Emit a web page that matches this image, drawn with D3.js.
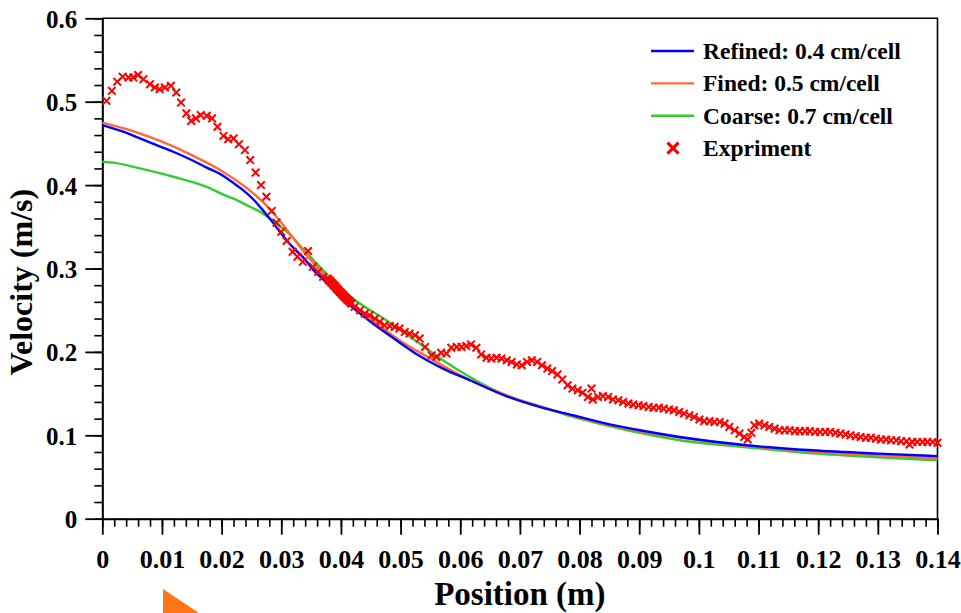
<!DOCTYPE html>
<html>
<head>
<meta charset="utf-8">
<script src="https://cdn.jsdelivr.net/npm/d3@7"></script>
<style>
  html, body { margin: 0; padding: 0; background: #fff; }
  svg { display: block; }
  text { font-family: "Liberation Serif", "Times New Roman", serif; font-weight: bold; fill: #000; }
</style>
</head>
<body>
<div id="chart"></div>
<script>
//Colores fijos
const COLOR_REFINED = '#0000FF',
COLOR_FINED = '#FF6A3A',
COLOR_COARSE = '#33CC33',
COLOR_EXP = '#FF0000';

//Datos
const refinedPos = [0, 0.0035, 0.0063, 0.0091, 0.0119, 0.0147, 0.0175, 0.0203, 0.0219, 0.0236, 0.0253, 0.0269, 0.0286, 0.0303, 0.0320, 0.0337, 0.0353, 0.0376, 0.0415, 0.0448, 0.0493, 0.0532, 0.0571, 0.0616, 0.0677, 0.0733, 0.0789, 0.0845, 0.0901, 0.0968, 0.108, 0.119, 0.130, 0.140];
const refinedVel = [0.472, 0.464, 0.456, 0.448, 0.440, 0.431, 0.421, 0.411, 0.403, 0.394, 0.383, 0.370, 0.355, 0.339, 0.325, 0.313, 0.299, 0.283, 0.256, 0.237, 0.214, 0.195, 0.180, 0.166, 0.147, 0.134, 0.124, 0.114, 0.106, 0.098, 0.088, 0.082, 0.078, 0.075];

const finedPos = [0, 0.005, 0.010, 0.015, 0.020, 0.025, 0.028, 0.031, 0.034, 0.038, 0.042, 0.046, 0.050, 0.055, 0.060, 0.065, 0.070, 0.075, 0.080, 0.090, 0.100, 0.110, 0.120, 0.130, 0.140];
const finedVel = [0.475, 0.465, 0.452, 0.436, 0.417, 0.392, 0.372, 0.346, 0.318, 0.287, 0.258, 0.234, 0.213, 0.192, 0.172, 0.156, 0.142, 0.131, 0.121, 0.105, 0.094, 0.086, 0.080, 0.076, 0.0725];

const coarsePos = [0, 0.0018, 0.0063, 0.0119, 0.0175, 0.0208, 0.0219, 0.0242, 0.0269, 0.0292, 0.0314, 0.0337, 0.0420, 0.0476, 0.0532, 0.0571, 0.0616, 0.0677, 0.0733, 0.0789, 0.0845, 0.0901, 0.0968, 0.108, 0.119, 0.130, 0.140];
const coarseVel = [0.428, 0.427, 0.420, 0.410, 0.398, 0.387, 0.384, 0.376, 0.366, 0.354, 0.341, 0.323, 0.264, 0.238, 0.210, 0.190, 0.170, 0.148, 0.135, 0.122, 0.112, 0.103, 0.094, 0.0856, 0.0784, 0.0736, 0.070];

const expPoints = [
  [0.0007,0.501],[0.0016,0.513],[0.0025,0.524],[0.0034,0.530],[0.0044,0.529],[0.0052,0.529],[0.0060,0.532],[0.0069,0.527],
  [0.0080,0.521],[0.0088,0.517],[0.0096,0.515],[0.0105,0.517],[0.0115,0.519],[0.0124,0.511],[0.0132,0.499],[0.0141,0.486],
  [0.0149,0.477],[0.0157,0.480],[0.0165,0.484],[0.0175,0.483],[0.0184,0.480],[0.0193,0.470],[0.0203,0.459],[0.0211,0.455],
  [0.0220,0.456],[0.0229,0.449],[0.0239,0.442],[0.0248,0.430],[0.0257,0.415],[0.0266,0.400],[0.0275,0.386],[0.0284,0.369],
  [0.0292,0.355],[0.0300,0.344],[0.0309,0.333],[0.0319,0.320],[0.0327,0.314],[0.0336,0.308],[0.0345,0.321],[0.0353,0.302],
  [0.0362,0.296],[0.0370,0.290],
  [0.0378,0.288],[0.0380,0.286],[0.0382,0.285],[0.0384,0.283],[0.0386,0.282],[0.0388,0.280],[0.0390,0.279],[0.0392,0.277],
  [0.0394,0.275],[0.0396,0.274],[0.0398,0.272],[0.0400,0.271],[0.0402,0.269],[0.0404,0.268],[0.0406,0.266],[0.0408,0.265],
  [0.0410,0.263],[0.0412,0.262],[0.0414,0.261],[0.0416,0.259],[0.0418,0.258],
  [0.0423,0.254],[0.0432,0.250],[0.0440,0.246],[0.0448,0.244],[0.0457,0.240],[0.0465,0.236],[0.0473,0.232],[0.0482,0.231],
  [0.0490,0.230],[0.0498,0.228],[0.0507,0.224],[0.0515,0.222],[0.0524,0.220],[0.0532,0.216],[0.0541,0.206],[0.0552,0.196],
  [0.0560,0.194],[0.0568,0.199],[0.0577,0.198],[0.0585,0.205],[0.0594,0.206],[0.0602,0.206],[0.0610,0.207],[0.0618,0.209],
  [0.0627,0.205],[0.0635,0.197],[0.0644,0.193],[0.0652,0.192],[0.0661,0.193],[0.0669,0.192],[0.0678,0.190],[0.0686,0.188],
  [0.0695,0.185],[0.0703,0.184],[0.0712,0.188],[0.0720,0.190],[0.0729,0.188],[0.0737,0.184],[0.0746,0.180],[0.0754,0.177],
  [0.0763,0.173],[0.0771,0.167],[0.0780,0.160],[0.0788,0.156],[0.0797,0.154],[0.0805,0.151],[0.0814,0.146],[0.0820,0.156],
  [0.0822,0.143],[0.0831,0.146],[0.0839,0.147],[0.0848,0.146],[0.0856,0.143],[0.0865,0.142],[0.0873,0.140],[0.0882,0.138],
  [0.0890,0.137],[0.0899,0.136],[0.0907,0.135],[0.0916,0.134],[0.0924,0.133],[0.0933,0.133],[0.0941,0.132],[0.0950,0.131],
  [0.0958,0.130],[0.0967,0.128],[0.0975,0.126],[0.0984,0.124],[0.0992,0.122],[0.1001,0.119],[0.1009,0.117],[0.1018,0.117],
  [0.1026,0.116],[0.1035,0.116],[0.1043,0.114],[0.1051,0.110],[0.1060,0.106],[0.1068,0.102],[0.1076,0.098],[0.1082,0.095],
  [0.1088,0.103],[0.1093,0.112],[0.1101,0.114],[0.1110,0.112],[0.1118,0.110],[0.1127,0.108],[0.1135,0.106],[0.1144,0.106],
  [0.1152,0.106],[0.1161,0.105],[0.1169,0.105],[0.1178,0.105],[0.1186,0.105],[0.1195,0.104],[0.1203,0.104],[0.1212,0.104],
  [0.1220,0.104],[0.1229,0.103],[0.1237,0.102],[0.1246,0.101],[0.1254,0.100],[0.1263,0.099],[0.1271,0.098],[0.1280,0.097],
  [0.1288,0.097],[0.1297,0.096],[0.1305,0.095],[0.1314,0.095],[0.1322,0.094],[0.1331,0.094],[0.1339,0.093],[0.1348,0.093],
  [0.1353,0.089],[0.1358,0.092],[0.1366,0.092],[0.1375,0.092],[0.1383,0.092],[0.1392,0.092],[0.1400,0.091]
];

const legendLabels = ['Refined: 0.4 cm/cell', 'Fined: 0.5 cm/cell', 'Coarse: 0.7 cm/cell', 'Expriment'];
const xMajorTicks = d3.range(0, 0.1401, 0.01);
const xMinorTicks = d3.range(0, 0.1401, 0.002);
const yMajorTicks = [0, 0.1, 0.2, 0.3, 0.4, 0.5, 0.6];
const yMinorTicks = d3.range(0, 0.6001, 0.02);

///Valores iniciales de altura, anchura y márgenes
let margin = {top: 18.3, right: 23.5, bottom: 94.3, left: 102.3},
    width = 961 - margin.left - margin.right,
    height = 613 - margin.top - margin.bottom;

let svgRoot = d3.select('#chart')
    .append('svg')
        .attr('width', 961)
        .attr('height', 613);

let svg = svgRoot.append('g')
        .attr('transform', 'translate(' + margin.left + ',' + margin.top + ')');

let x = d3.scaleLinear()
    .domain([0, 0.14])
    .range([0, width]);

let y = d3.scaleLinear()
    .domain([0, 0.6])
    .range([height, 0]);

//Marco superior y derecho
svg.append('path')
    .attr('d', 'M' + x(0) + ',' + y(0.6) + 'H' + x(0.14) + 'V' + y(0))
    .attr('fill', 'none')
    .attr('stroke', '#000')
    .attr('stroke-width', 1.6);

//Ejes: ticks menores
svg.append('g')
    .attr('transform', 'translate(0,' + height + ')')
    .call(d3.axisBottom(x).tickValues(xMinorTicks).tickSize(8).tickSizeOuter(0).tickFormat(''))
    .call(g => g.selectAll('line').attr('stroke-width', 1.6));

svg.append('g')
    .call(d3.axisLeft(y).tickValues(yMinorTicks).tickSize(8).tickSizeOuter(0).tickFormat(''))
    .call(g => g.selectAll('line').attr('stroke-width', 1.6));

let fmt = d => d === 0 ? '0' : d3.format('.2~f')(d);

//Ejes: ticks mayores
svg.append('g')
    .attr('transform', 'translate(0,' + height + ')')
    .call(d3.axisBottom(x).tickValues(xMajorTicks).tickSize(16).tickSizeOuter(0).tickFormat(fmt))
    .call(g => g.select('.domain').attr('stroke-width', 2))
    .call(g => g.selectAll('line').attr('stroke-width', 1.8))
    .call(g => g.selectAll('text')
        .attr('y', 49.5).attr('dy', 0)
        .attr('font-size', 26)
        .attr('font-family', '"Liberation Serif", serif')
        .attr('font-weight', 'bold'));

svg.append('g')
    .call(d3.axisLeft(y).tickValues(yMajorTicks).tickSize(17).tickSizeOuter(0).tickFormat(fmt))
    .call(g => g.select('.domain').attr('stroke-width', 2))
    .call(g => g.selectAll('line').attr('stroke-width', 1.8))
    .call(g => g.selectAll('text')
        .attr('x', -25).attr('dy', '0.36em')
        .attr('font-size', 25)
        .attr('font-family', '"Liberation Serif", serif')
        .attr('font-weight', 'bold'));

//Títulos de ejes
svgRoot.append('text')
    .attr('x', margin.left + width / 2)
    .attr('y', 605)
    .attr('text-anchor', 'middle')
    .attr('font-size', 33)
    .text('Position (m)');

svgRoot.append('text')
    .attr('transform', 'translate(32,282) rotate(-90)')
    .attr('text-anchor', 'middle')
    .attr('font-size', 32)
    .text('Velocity (m/s)');

//Líneas de simulación
let line = d3.line()
    .x(d => x(d[0]))
    .y(d => y(d[1]))
    .curve(d3.curveMonotoneX);

let series = [
    { pos: coarsePos, vel: coarseVel, color: COLOR_COARSE },
    { pos: finedPos, vel: finedVel, color: COLOR_FINED },
    { pos: refinedPos, vel: refinedVel, color: COLOR_REFINED }
];

series.forEach(function(s) {
    svg.append('path')
        .datum(s.pos.map((p, i) => [p, s.vel[i]]))
        .attr('fill', 'none')
        .attr('stroke', s.color)
        .attr('stroke-width', 2.4)
        .attr('stroke-linejoin', 'round')
        .attr('d', line);
});

//Datos experimentales
let cross = r => 'M' + (-r) + ',' + (-r) + 'L' + r + ',' + r + 'M' + (-r) + ',' + r + 'L' + r + ',' + (-r);

svg.append('g')
    .selectAll('path')
    .data(expPoints)
    .enter()
    .append('path')
    .attr('transform', d => 'translate(' + x(d[0]) + ',' + y(d[1]) + ')')
    .attr('d', cross(3.8))
    .attr('stroke', COLOR_EXP)
    .attr('stroke-width', 2)
    .attr('fill', 'none');

//Leyenda
let legendColors = [COLOR_REFINED, COLOR_FINED, COLOR_COARSE, COLOR_EXP];
let legend = svgRoot.append('g').attr('transform', 'translate(651,51)');

let rows = legend.selectAll('g')
    .data(legendLabels)
    .enter()
    .append('g')
    .attr('transform', (d, i) => 'translate(0,' + (i * 32.4) + ')');

rows.filter((d, i) => i < 3)
    .append('line')
    .attr('x1', 0).attr('x2', 43)
    .attr('y1', 0).attr('y2', 0)
    .attr('stroke', (d, i) => legendColors[i])
    .attr('stroke-width', 2.4);

rows.filter((d, i) => i === 3)
    .append('path')
    .attr('transform', 'translate(22,0)')
    .attr('d', cross(5.5))
    .attr('stroke', COLOR_EXP)
    .attr('stroke-width', 3.2)
    .attr('fill', 'none');

rows.append('text')
    .attr('x', 52)
    .attr('y', 8)
    .attr('font-size', 23.5)
    .text(d => d);

//Marca naranja inferior
svgRoot.append('path')
    .attr('d', 'M163,589L163,613L199,613Z')
    .attr('fill', '#FF7518');
</script>
</body>
</html>
